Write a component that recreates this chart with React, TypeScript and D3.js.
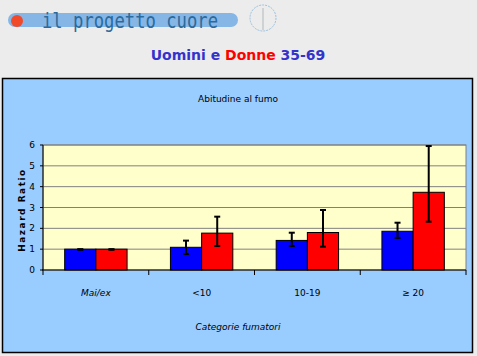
import React from "react";
import * as d3 from "d3";

const categories = ["Mai/ex", "<10", "10-19", "≥ 20"];
const seriesNames = ["Uomini", "Donne"];
const menValues = [1.0, 1.09, 1.42, 1.86];
const womenValues = [1.0, 1.77, 1.8, 3.73];
const menLow = [0.97, 0.77, 1.15, 1.54];
const menHigh = [1.0, 1.41, 1.79, 2.27];
const womenLow = [0.97, 1.15, 1.12, 2.32];
const womenHigh = [1.0, 2.56, 2.88, 5.95];
const yTicks = [0, 1, 2, 3, 4, 5, 6];

const colors = ["#0000ff", "#ff0000"];

export default function App() {
  const W = 477, H = 356;
  const plot = { left: 43, right: 466, top: 145, bottom: 270 };
  const x0 = d3.scaleBand<string>().domain(categories).range([plot.left, plot.right]).paddingInner(0).paddingOuter(0);
  const bw = x0.bandwidth();
  const barW = bw * 0.295;
  const groupOff = (bw - 2 * barW) / 2;
  const y = d3.scaleLinear().domain([0, 6]).range([plot.bottom, plot.top]);
  const values = [menValues, womenValues];
  const lows = [menLow, womenLow];
  const highs = [menHigh, womenHigh];
  const font = "'DejaVu Sans', sans-serif";

  return (
    <svg width={W} height={H} style={{ position: "absolute", left: 0, top: 0, display: "block" }}>
      <rect x={0} y={0} width={W} height={H} fill="#ececec" />
      {/* banner */}
      <rect x={8} y={13} width={230} height={14} rx={7} fill="#86b6e6" />
      <circle cx={17} cy={21} r={6} fill="#f04a2a" />
      <text x={42} y={28} fontFamily="'DejaVu Sans Mono', monospace" fontSize={22} fill="#2a6a9c" textLength={176} lengthAdjust="spacingAndGlyphs">il progetto cuore</text>
      <circle cx={263} cy={18} r={13} fill="none" stroke="#9cc0dc" strokeWidth={1} strokeDasharray="2 1" />
      <line x1={263} y1={8} x2={263} y2={30} stroke="#b0b8b8" strokeWidth={1} />
      {/* main title */}
      <text x={238} y={60} textAnchor="middle" fontFamily={font} fontWeight="bold" fontSize={14}>
        <tspan fill="#3333cc">Uomini e </tspan>
        <tspan fill="#ff0000">Donne</tspan>
        <tspan fill="#3333cc"> 35-69</tspan>
      </text>
      {/* chart box */}
      <rect x={2.5} y={78.5} width={470} height={274} fill="#99ccff" stroke="#000" strokeWidth={1.5} />
      <text x={238} y={102} textAnchor="middle" fontFamily={font} fontSize={9} fill="#000">Abitudine al fumo</text>
      {/* plot area */}
      <rect x={plot.left} y={plot.top} width={plot.right - plot.left} height={plot.bottom - plot.top} fill="#ffffcc" stroke="#808080" strokeWidth={1} />
      {yTicks.filter(t => t > 0).map(t => (
        <line key={t} x1={plot.left} x2={plot.right} y1={y(t)} y2={y(t)} stroke="#808080" strokeWidth={1} />
      ))}
      {/* bars */}
      {values.map((vals, s) =>
        vals.map((v, i) => {
          const bx = (x0(categories[i]) as number) + groupOff + s * barW;
          return (
            <rect key={`b${s}-${i}`} x={bx} y={y(v)} width={barW} height={plot.bottom - y(v)} fill={colors[s]} stroke="#000" strokeWidth={1} />
          );
        })
      )}
      {/* error bars */}
      {values.map((vals, s) =>
        vals.map((v, i) => {
          const cx = (x0(categories[i]) as number) + groupOff + s * barW + barW / 2;
          const lo = y(lows[s][i]);
          const hi = y(highs[s][i]);
          return (
            <g key={`e${s}-${i}`} stroke="#000" strokeWidth={2}>
              <line x1={cx} x2={cx} y1={lo} y2={hi} />
              <line x1={cx - 3} x2={cx + 3} y1={lo} y2={lo} />
              <line x1={cx - 3} x2={cx + 3} y1={hi} y2={hi} />
            </g>
          );
        })
      )}
      {/* axes */}
      <line x1={plot.left} x2={plot.left} y1={plot.top} y2={plot.bottom} stroke="#000" strokeWidth={1} />
      <line x1={plot.left - 1} x2={plot.right} y1={plot.bottom} y2={plot.bottom} stroke="#000" strokeWidth={1} />
      {yTicks.map(t => (
        <g key={`yt${t}`}>
          <line x1={plot.left - 3} x2={plot.left} y1={y(t)} y2={y(t)} stroke="#000" />
          <text x={35} y={y(t) + 3} textAnchor="end" fontFamily={font} fontSize={9}>{t}</text>
        </g>
      ))}
      {[...categories.map(c => x0(c) as number), plot.right].map((xx, i) => (
        <line key={`xt${i}`} x1={xx} x2={xx} y1={plot.bottom} y2={plot.bottom + 5} stroke="#000" />
      ))}
      {categories.map((c, i) => (
        <text key={`xl${i}`} x={(x0(c) as number) + bw / 2} y={296} textAnchor="middle" fontFamily={font} fontSize={9} fontStyle={i === 0 ? "italic" : "normal"}>{c}</text>
      ))}
      <text x={238} y={330} textAnchor="middle" fontFamily={font} fontSize={9} fontStyle="italic">Categorie fumatori</text>
      <text transform={`translate(25,${210}) rotate(-90)`} textAnchor="middle" fontFamily={font} fontSize={9} fontWeight="bold" letterSpacing={1.5}>Hazard Ratio</text>
      <title>{seriesNames.join(" / ")}</title>
    </svg>
  );
}
